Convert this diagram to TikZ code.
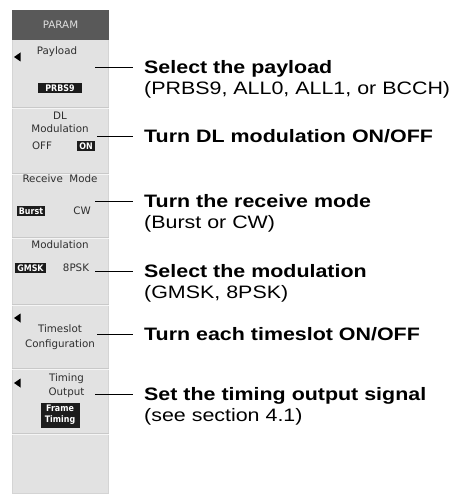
\documentclass[tikz,border=0pt]{standalone}
\usepackage{fontspec}
\usepackage{tikz}
\usetikzlibrary{positioning}
\usepackage{xcolor}
\newfontfamily\panelfont{DejaVu Sans}
\newfontfamily\boxfont[FakeStretch=0.88]{DejaVu Sans}
\newfontfamily\lblfont[FakeStretch=1.19]{Liberation Sans}
\definecolor{panelbg}{HTML}{E2E2E2}
\definecolor{hdrbg}{HTML}{595959}
\definecolor{sepdark}{HTML}{C9C9C9}
\definecolor{paneltxt}{HTML}{2E2E2E}
\definecolor{boxbg}{HTML}{1C1C1C}

\begin{document}
\begin{tikzpicture}[x=1pt, y=-1pt]
    \tikzstyle{ptext} = [font=\panelfont\fontsize{10.3}{13}\selectfont, text=paneltxt, inner sep=0pt, align=center]
    \tikzstyle{pbox} = [fill=boxbg, text=white, font=\boxfont\bfseries\fontsize{9}{11}\selectfont, inner xsep=2pt, inner ysep=2pt, minimum height=10pt, align=center]
    \tikzstyle{lbltitle} = [font=\lblfont\bfseries\fontsize{18}{21}\selectfont, inner sep=0pt, text height=13pt, text depth=0pt, anchor=west]
    \tikzstyle{lblnote} = [font=\lblfont\fontsize{18}{21}\selectfont, inner sep=0pt, text height=13pt, text depth=0pt]
    \tikzstyle{leader} = [line width=0.9pt, shorten >=11pt]
    \tikzstyle{sepline} = [draw=sepdark, line width=0.8pt, postaction={draw=white!96!black, transform canvas={yshift=-1.2pt}}]
    \tikzstyle{arrowmark} = [fill=black]

    \useasboundingbox[fill=white] (0,0) rectangle (452,495);

    % the PARAM panel
    \fill[panelbg] (12,10) rectangle (109,493);
    \draw[sepdark!80!white, line width=0.6pt] (12.3,40) -- (12.3,493) -- (108.7,493) -- (108.7,40);
    \fill[hdrbg] (12,10) rectangle (109,40);
    \node[ptext, text=white!88!black] (param) at (60.5,25) {PARAM};

    \draw[sepline] (12,107) -- (109,107);
    \draw[sepline] (12,173) -- (109,173);
    \draw[sepline] (12,237) -- (109,237);
    \draw[sepline] (12,304) -- (109,304);
    \draw[sepline] (12,368) -- (109,368);
    \draw[sepline] (12,433) -- (109,433);

    \fill[arrowmark] (14,57) -- (20.5,52.5) -- (20.5,61.5) -- cycle;
    \node[ptext] (payload) at (57,52) {Payload};
    \node[pbox, minimum width=44pt] (prbs) at (60,88) {PRBS9};

    \node[ptext] (dlmod) at (60,122.5) {DL\\Modulation};
    \node[ptext] (off) at (42,146) {OFF};
    \node[pbox] (on) at (86,146) {ON};

    \node[ptext] (rxmode) at (60,179) {Receive\ \ Mode};
    \node[pbox] (burst) at (31,211) {Burst};
    \node[ptext] (cw) at (82,211) {CW};

    \node[ptext] (modul) at (60,245) {Modulation};
    \node[pbox] (gmsk) at (30.5,268) {GMSK};
    \node[ptext] (psk) at (76,268) {8PSK};

    \fill[arrowmark] (14,318) -- (20.5,313.5) -- (20.5,322.5) -- cycle;
    \node[ptext, font=\panelfont\fontsize{10.3}{15}\selectfont] (tslot) at (60,337.5) {Timeslot\\Configuration};

    \fill[arrowmark] (14,383) -- (20.5,378.5) -- (20.5,387.5) -- cycle;
    \node[ptext, font=\panelfont\fontsize{10.3}{14}\selectfont] (timing) at (66.5,386) {Timing\\Output};
    \node[pbox, minimum width=39pt, minimum height=25pt] (frame) at (60,415) {Frame\\Timing};

    % callouts
    \coordinate (pay) at (95,67);
    \coordinate (dl) at (97,136);
    \coordinate (rx) at (95,201);
    \coordinate (mod) at (95,271);
    \coordinate (ts) at (97,334);
    \coordinate (tim) at (95,394);

    \node[lbltitle, right=49pt of pay] (lpay) {Select the payload};
    \node[lblnote, below=8pt of lpay.south west, anchor=north west] (npay) {(PRBS9, ALL0, ALL1, or BCCH)};
    \node[lbltitle, right=47pt of dl] (ldl) {Turn DL modulation ON/OFF};
    \node[lbltitle, right=49pt of rx] (lrx) {Turn the receive mode};
    \node[lblnote, below=8pt of lrx.south west, anchor=north west] (nrx) {(Burst or CW)};
    \node[lbltitle, right=49pt of mod] (lmod) {Select the modulation};
    \node[lblnote, below=8pt of lmod.south west, anchor=north west] (nmod) {(GMSK, 8PSK)};
    \node[lbltitle, right=47pt of ts] (lts) {Turn each timeslot ON/OFF};
    \node[lbltitle, right=49pt of tim] (ltim) {Set the timing output signal};
    \node[lblnote, below=8pt of ltim.south west, anchor=north west] (ntim) {(see section 4.1)};

    \draw[leader] (pay) -- (lpay);
    \draw[leader] (dl) -- (ldl);
    \draw[leader] (rx) -- (lrx);
    \draw[leader] (mod) -- (lmod);
    \draw[leader] (ts) -- (lts);
    \draw[leader] (tim) -- (ltim);
\end{tikzpicture}
\end{document}
